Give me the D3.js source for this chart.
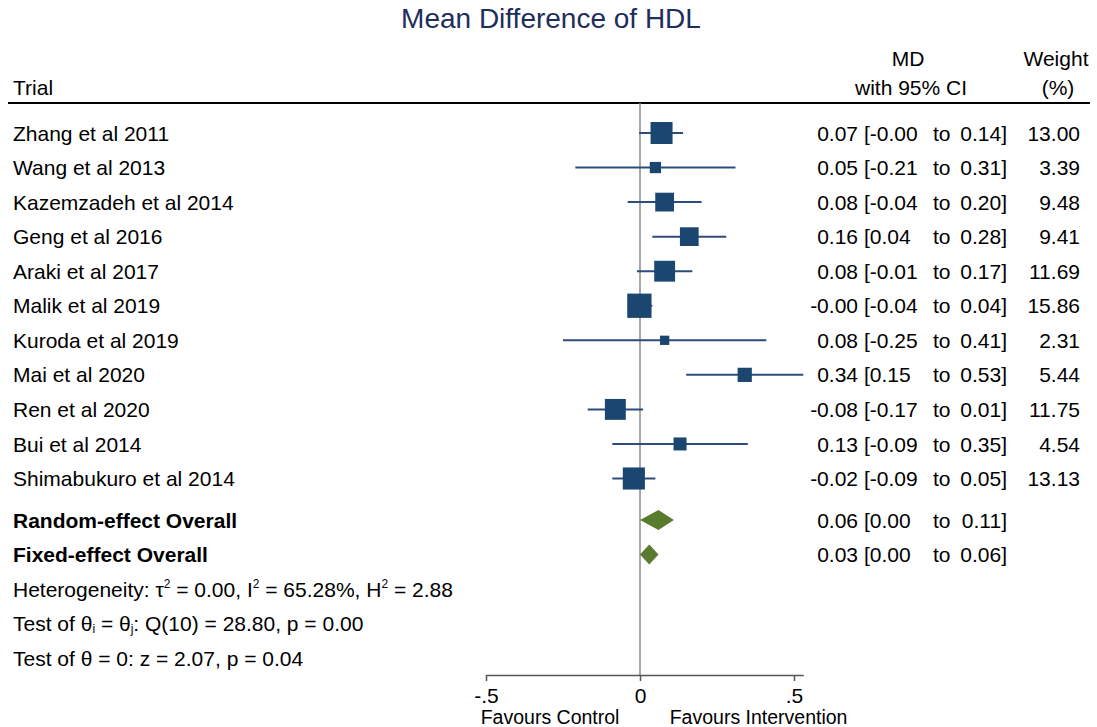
<!DOCTYPE html>
<html>
<head>
<meta charset="utf-8">
<script src="https://cdn.jsdelivr.net/npm/d3@7"></script>
<style>
  body { margin: 0; background: #fff; }
  svg text { font-family: "Liberation Sans", Arial, Helvetica, sans-serif; fill: #000; }
</style>
</head>
<body>
<svg id="chart" width="1097" height="727"></svg>
<script>
// study level data
const trials = ["Zhang et al 2011", "Wang et al 2013", "Kazemzadeh et al 2014", "Geng et al 2016",
  "Araki et al 2017", "Malik et al 2019", "Kuroda et al 2019", "Mai et al 2020", "Ren et al 2020",
  "Bui et al 2014", "Shimabukuro et al 2014"];
const md     = [0.07, 0.05, 0.08, 0.16, 0.08, -0.002, 0.08, 0.34, -0.08, 0.13, -0.02];
const lower  = [-0.003, -0.21, -0.04, 0.04, -0.01, -0.04, -0.25, 0.15, -0.17, -0.09, -0.09];
const upper  = [0.14, 0.31, 0.20, 0.28, 0.17, 0.04, 0.41, 0.53, 0.01, 0.35, 0.05];
const weights = [13.00, 3.39, 9.48, 9.41, 11.69, 15.86, 2.31, 5.44, 11.75, 4.54, 13.13];

// pooled estimates
const overallLabels = ["Random-effect Overall", "Fixed-effect Overall"];
const overallMd    = [0.06, 0.03];
const overallLower = [0.00, 0.00];
const overallUpper = [0.11, 0.06];

// footnote text parts: [text, kind]
const statLines = [
  [["Heterogeneity: τ", ""], ["2", "sup"], [" = 0.00, I", ""], ["2", "sup"], [" = 65.28%, H", ""], ["2", "sup"], [" = 2.88", ""]],
  [["Test of θ", ""], ["i", "sub"], [" = θ", ""], ["j", "sub"], [": Q(10) = 28.80, p = 0.00", ""]],
  [["Test of θ = 0: z = 2.07, p = 0.04", ""]]
];

const xTicks = [-0.5, 0, 0.5];
const xTickLabels = ["-.5", "0", ".5"];
const favours = ["Favours Control", "Favours Intervention"];

const svg = d3.select("#chart");
const fs = 21;
const fmt = v => v.toFixed(2);

const x = d3.scaleLinear().domain([-0.5, 0.53]).range([486, 486 + 1.03 * 308]);
const y = d3.scaleLinear().domain([0, 1]).range([133, 167.55]);

// title
svg.append("text")
  .attr("x", 551).attr("y", 28)
  .attr("text-anchor", "middle")
  .style("font-size", "28px")
  .style("fill", "#1e2d5c")
  .text("Mean Difference of HDL");

// header
const head = svg.append("g").style("font-size", fs + "px");
head.append("text").attr("x", 13).attr("y", 95).text("Trial");
head.append("text").attr("x", 908).attr("y", 66).attr("text-anchor", "middle").text("MD");
head.append("text").attr("x", 911).attr("y", 95).attr("text-anchor", "middle").text("with 95% CI");
head.append("text").attr("x", 1056).attr("y", 66).attr("text-anchor", "middle").text("Weight");
head.append("text").attr("x", 1058).attr("y", 95).attr("text-anchor", "middle").text("(%)");

svg.append("line")
  .attr("x1", 8).attr("x2", 1090).attr("y1", 103).attr("y2", 103)
  .attr("stroke", "#000").attr("stroke-width", 2);

// reference line at 0
svg.append("line")
  .attr("x1", x(0)).attr("x2", x(0)).attr("y1", 103).attr("y2", 675)
  .attr("stroke", "#8a8a8a").attr("stroke-width", 1.5);

// study rows
const rows = svg.append("g").selectAll("g")
  .data(trials.map((t, i) => ({ t, i, md: md[i], lo: lower[i], hi: upper[i], w: weights[i] })))
  .join("g")
  .attr("transform", d => `translate(0,${y(d.i)})`);

rows.append("line")
  .attr("x1", d => x(d.lo)).attr("x2", d => x(d.hi))
  .attr("stroke", "#2c4d7c").attr("stroke-width", 2);

rows.append("rect")
  .attr("x", d => x(d.md) - 3.05 * Math.sqrt(d.w))
  .attr("y", d => -3.05 * Math.sqrt(d.w))
  .attr("width", d => 6.1 * Math.sqrt(d.w))
  .attr("height", d => 6.1 * Math.sqrt(d.w))
  .attr("fill", "#1b4670");

const rowText = (sel, bold) => {
  sel.append("text").attr("x", 13).attr("dy", "0.36em")
    .style("font-size", fs + "px").style("font-weight", bold ? "bold" : "normal")
    .text(d => d.t);
  sel.append("text").attr("x", 858).attr("dy", "0.36em").attr("text-anchor", "end")
    .style("font-size", fs + "px").text(d => fmt(d.md));
  sel.append("text").attr("x", 864).attr("dy", "0.36em")
    .style("font-size", fs + "px").text(d => "[" + fmt(d.lo));
  sel.append("text").attr("x", 933).attr("dy", "0.36em")
    .style("font-size", fs + "px").text("to");
  sel.append("text").attr("x", 1007).attr("dy", "0.36em").attr("text-anchor", "end")
    .style("font-size", fs + "px").text(d => fmt(d.hi) + "]");
};
rowText(rows, false);
rows.append("text").attr("x", 1080).attr("dy", "0.36em").attr("text-anchor", "end")
  .style("font-size", fs + "px").text(d => fmt(d.w));

// overall rows
const ov = svg.append("g").selectAll("g")
  .data(overallLabels.map((t, i) => ({ t, i, md: overallMd[i], lo: overallLower[i], hi: overallUpper[i] })))
  .join("g")
  .attr("transform", d => `translate(0,${y(trials.length + 0.2 + d.i)})`);

ov.append("path")
  .attr("d", d => `M${x(d.lo)},0L${x(d.md)},-10L${x(d.hi)},0L${x(d.md)},10Z`)
  .attr("fill", "#5a7a2e");
rowText(ov, true);

// footnote stats
statLines.forEach((parts, k) => {
  const t = svg.append("text")
    .attr("x", 13).attr("y", y(trials.length + 2.2 + k)).attr("dy", "0.36em")
    .style("font-size", fs + "px");
  parts.forEach(([s, kind]) => {
    const ts = t.append("tspan").text(s);
    if (kind === "sup") ts.style("font-size", "12px").attr("baseline-shift", "75%");
    if (kind === "sub") ts.style("font-size", "12px").attr("baseline-shift", "-20%");
  });
});

// x axis
const axis = svg.append("g")
  .attr("transform", "translate(0,675)")
  .call(d3.axisBottom(x).tickValues(xTicks).tickFormat((d, i) => xTickLabels[i])
    .tickSize(6).tickSizeOuter(0).tickPadding(7));
axis.select(".domain").attr("stroke", "#555").attr("stroke-width", 1.5);
axis.selectAll(".tick line").attr("stroke", "#555").attr("stroke-width", 1.5);
axis.selectAll(".tick text").style("font-size", fs + "px").style("font-family", "'Liberation Sans', Arial, sans-serif").attr("fill", "#000");

svg.append("text").attr("x", x(-0.292)).attr("y", 724).attr("text-anchor", "middle")
  .style("font-size", "19.5px").text(favours[0]);
svg.append("text").attr("x", x(0.385)).attr("y", 724).attr("text-anchor", "middle")
  .style("font-size", "19.5px").text(favours[1]);
</script>
</body>
</html>
